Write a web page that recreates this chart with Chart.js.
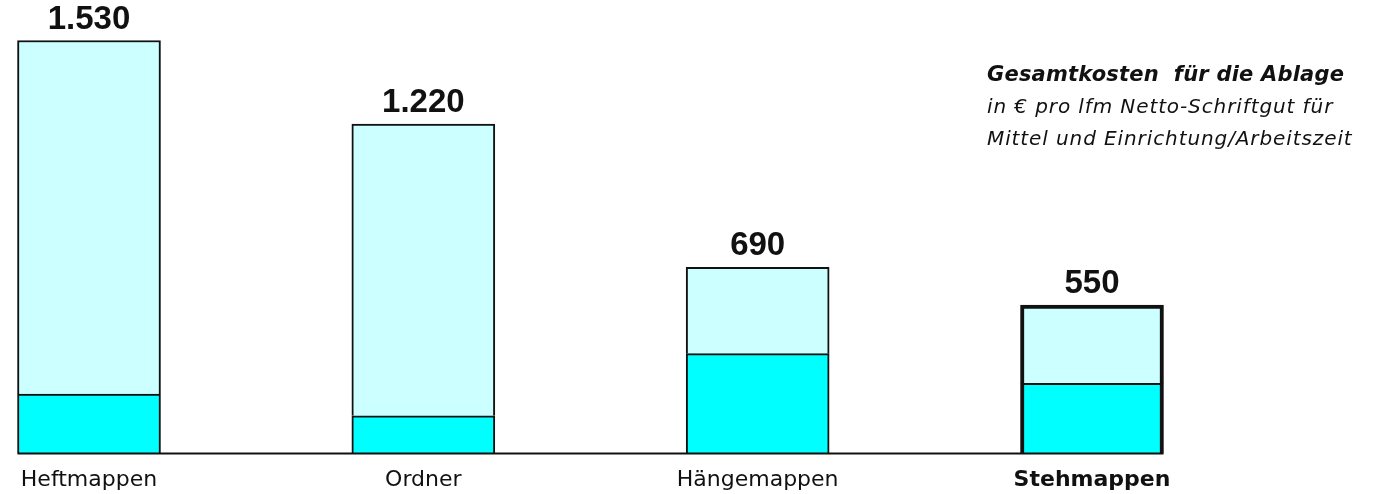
<!DOCTYPE html>
<html>
<head>
<meta charset="utf-8">
<script src="https://cdn.jsdelivr.net/npm/chart.js@4/dist/chart.umd.min.js"></script>
<style>
  html, body { margin: 0; padding: 0; background: #fff; }
  #wrap { position: relative; width: 1375px; height: 494px; }
  #note { position: absolute; left: 987px; top: 59px; font-family: "DejaVu Sans", sans-serif; color: #111; font-style: italic; }
  #note .t { font-weight: bold; font-size: 21px; line-height: 31px; letter-spacing: 0.2px; }
  #note .s { font-size: 20px; line-height: 32px; letter-spacing: 0.9px; }
</style>
</head>
<body>
<div id="wrap">
  <canvas id="c" width="1375" height="494"></canvas>
  <div id="note">
    <div class="t">Gesamtkosten&nbsp; für die Ablage</div>
    <div class="s">in € pro lfm Netto-Schriftgut für</div>
    <div class="s">Mittel und Einrichtung/Arbeitszeit</div>
  </div>
</div>
<script>
const categories = ['Heftmappen', 'Ordner', 'Hängemappen', 'Stehmappen'];
const totals = [1530, 1220, 690, 550];
const mittel = [220, 140, 370, 260];
const einrichtung = [1310, 1080, 320, 290];
const seriesNames = ['Mittel', 'Einrichtung/Arbeitszeit'];

function fmtDE(v) {
  return String(v).replace(/\B(?=(\d{3})+(?!\d))/g, '.');
}

const totalLabels = {
  id: 'totalLabels',
  afterDatasetsDraw(chart) {
    const ctx = chart.ctx;
    const meta = chart.getDatasetMeta(1);
    ctx.save();
    ctx.font = 'bold 33px "Liberation Sans", sans-serif';
    ctx.fillStyle = '#111';
    ctx.textAlign = 'center';
    ctx.textBaseline = 'alphabetic';
    meta.data.forEach((bar, i) => {
      ctx.fillText(fmtDE(totals[i]), bar.x, bar.y - 12);
    });
    ctx.restore();
  }
};

const baseline = {
  id: 'baseline',
  afterDatasetsDraw(chart) {
    const ctx = chart.ctx;
    const bars = chart.getDatasetMeta(0).data;
    const first = bars[0], last = bars[bars.length - 1];
    const y = chart.scales.y.getPixelForValue(0);
    ctx.save();
    ctx.strokeStyle = '#111';
    ctx.lineWidth = 2;
    ctx.beginPath();
    ctx.moveTo(first.x - first.width / 2, y);
    ctx.lineTo(last.x + last.width / 2, y);
    ctx.stroke();
    ctx.restore();
  }
};

new Chart(document.getElementById('c'), {
  type: 'bar',
  data: {
    labels: categories,
    datasets: [
      {
        label: seriesNames[0],
        data: mittel,
        backgroundColor: '#00FFFF',
        borderColor: '#111',
        borderWidth: (c) => c.dataIndex === 3 ? { top: 2, left: 4, right: 4, bottom: 0 } : 2,
        barThickness: 143,
        clip: false
      },
      {
        label: seriesNames[1],
        data: einrichtung,
        backgroundColor: '#CCFFFF',
        borderColor: '#111',
        borderWidth: (c) => c.dataIndex === 3 ? { top: 4, left: 4, right: 4, bottom: 0 } : 2,
        barThickness: 143,
        clip: false
      }
    ]
  },
  options: {
    responsive: false,
    animation: false,
    layout: { padding: { left: 89, right: 283, top: 0, bottom: -4 } },
    plugins: { legend: { display: false }, tooltip: { enabled: false }, title: { display: false } },
    scales: {
      x: {
        stacked: true,
        offset: false,
        grid: { display: false },
        border: { display: false },
        ticks: {
          color: '#111',
          padding: 5,
          maxRotation: 0,
          autoSkip: false,
          font: (c) => ({
            family: '"DejaVu Sans", sans-serif',
            size: 22,
            weight: c.index === 3 ? 'bold' : 'normal'
          })
        }
      },
      y: {
        stacked: true,
        display: false,
        min: 0,
        max: 1680
      }
    }
  },
  plugins: [baseline, totalLabels]
});
</script>
</body>
</html>
